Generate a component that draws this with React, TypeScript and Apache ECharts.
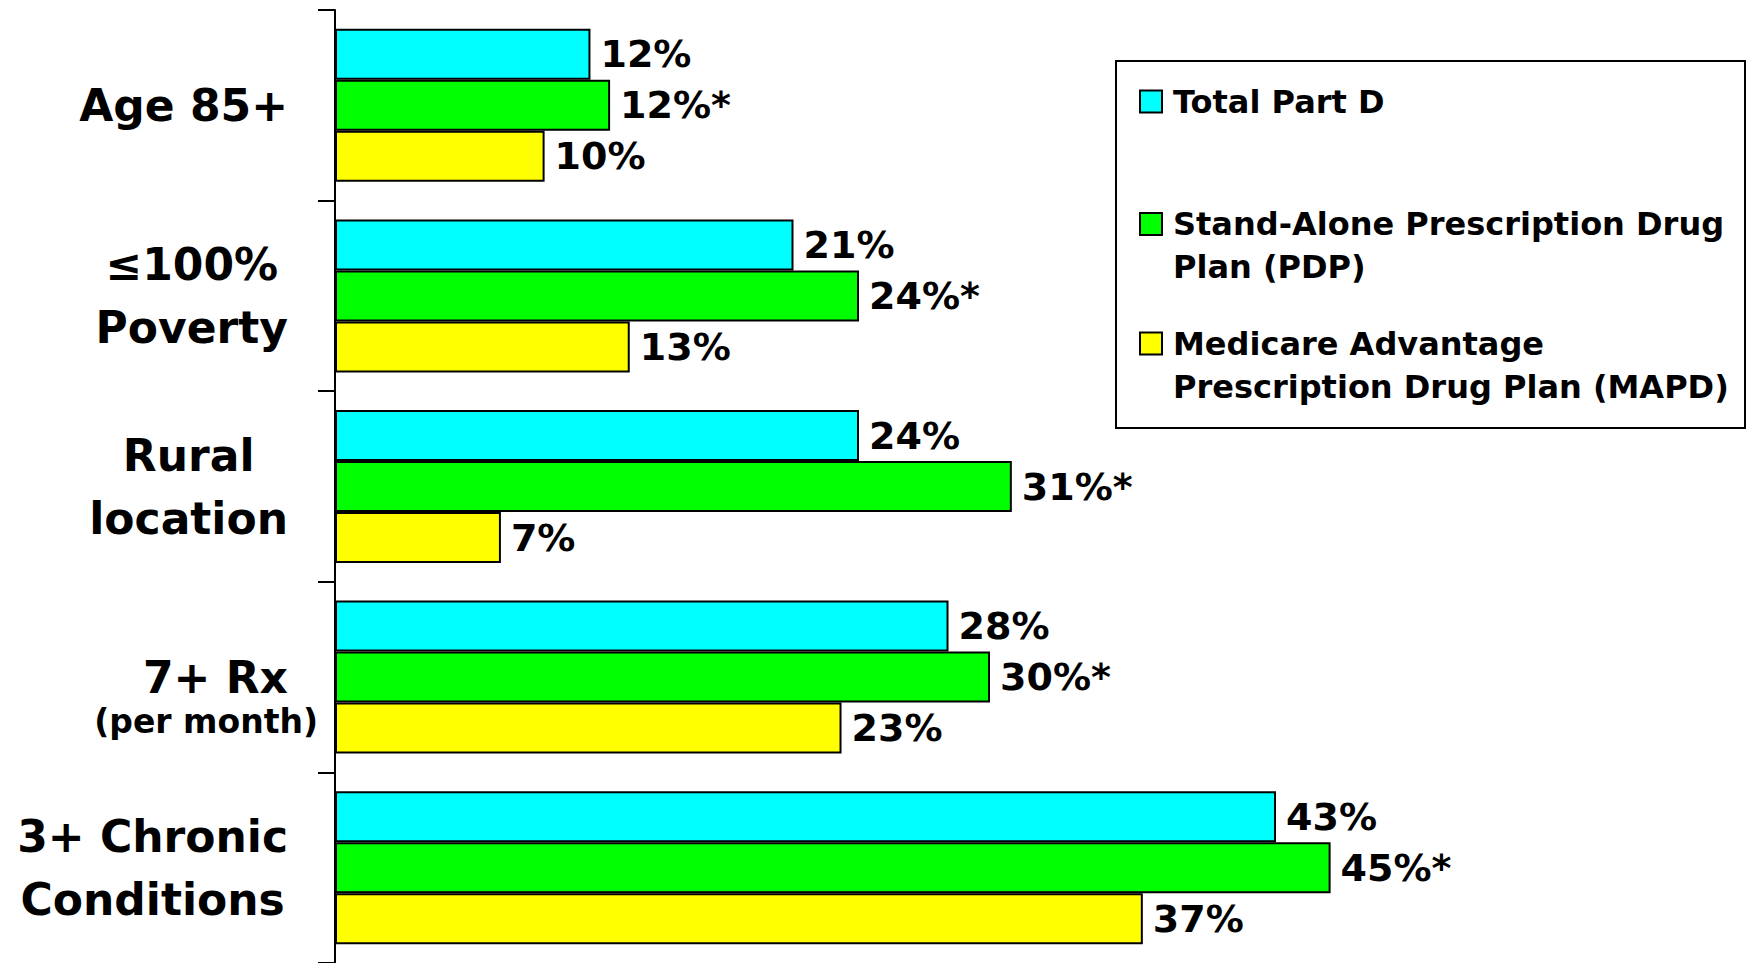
import React, { useEffect, useRef } from 'react';
import * as echarts from 'echarts';

const categories = ['Age 85+', '≤100%\nPoverty', 'Rural\nlocation', '7+ Rx\n(per month)', '3+ Chronic\nConditions'];
const seriesNames = ['Total Part D', 'Stand-Alone Prescription Drug Plan (PDP)', 'Medicare Advantage Prescription Drug Plan (MAPD)'];
const legendLines = [
  ['Total Part D'],
  ['Stand-Alone Prescription Drug', 'Plan (PDP)'],
  ['Medicare Advantage', 'Prescription Drug Plan (MAPD)'],
];
const totalValues = [11.7, 21.0, 24.0, 28.1, 43.1];
const pdpValues = [12.6, 24.0, 31.0, 30.0, 45.6];
const mapdValues = [9.6, 13.5, 7.6, 23.2, 37.0];
const totalLabels = ['12%', '21%', '24%', '28%', '43%'];
const pdpLabels = ['12%*', '24%*', '31%*', '30%*', '45%*'];
const mapdLabels = ['10%', '13%', '7%', '23%', '37%'];
const colors = ['#00FFFF', '#00FF00', '#FFFF00'];

const FONT = "'DejaVu Sans', 'Noto Sans', sans-serif";

export default function App() {
  const ref = useRef<HTMLDivElement>(null);
  useEffect(() => {
    if (!ref.current) return;
    const chart = echarts.init(ref.current, undefined, { renderer: 'svg' });
    const valuesList = [totalValues, pdpValues, mapdValues];
    const labelsList = [totalLabels, pdpLabels, mapdLabels];
    const legendTops = [85.5, 176, 295.5];

    const series = seriesNames.map((name, i) => ({
      name,
      type: 'bar',
      data: valuesList[i],
      barWidth: 51,
      barGap: '0%',
      itemStyle: { color: colors[i], borderColor: '#000', borderWidth: 2 },
      label: {
        show: true,
        position: 'right',
        distance: 10,
        fontFamily: FONT,
        fontWeight: 'bold',
        fontSize: 38,
        color: '#000',
        formatter: (p: any) => labelsList[i][p.dataIndex],
      },
    }));

    const legends = seriesNames.map((name, i) => ({
      data: [name],
      orient: 'vertical',
      left: 1139,
      top: legendTops[i],
      padding: 0,
      icon: 'rect',
      itemWidth: 22,
      itemHeight: 22,
      selectedMode: false,
      itemStyle: { borderColor: '#000', borderWidth: 2 },
      textStyle: {
        fontFamily: FONT,
        fontWeight: 'bold',
        fontSize: 32,
        color: '#000',
        rich: {
          t: { fontFamily: FONT, fontWeight: 'bold', fontSize: 32, color: '#000', lineHeight: 43, padding: [0, 0, 0, 6] },
          sp: { fontSize: 10, lineHeight: 43 },
        },
      },
      formatter: () => {
        const lines = legendLines[i];
        if (lines.length === 1) return `{t|${lines[0]}}`;
        return `{sp| }\n` + lines.map((l) => `{t|${l}}`).join('\n');
      },
    }));

    chart.setOption({
      animation: false,
      backgroundColor: '#fff',
      grid: { left: 335, top: 10, width: 1310, height: 955 },
      legend: legends,
      xAxis: { type: 'value', min: 0, max: 60, show: false },
      yAxis: {
        type: 'category',
        inverse: true,
        data: categories,
        axisLine: { show: true, lineStyle: { color: '#000', width: 2 } },
        axisTick: { show: true, length: 17, lineStyle: { color: '#000', width: 2 } },
        splitLine: { show: false },
        axisLabel: {
          margin: 17,
          interval: 0,
          fontFamily: FONT,
          fontWeight: 'bold',
          color: '#000',
          fontSize: 44,
          formatter: (v: string) => {
            const lines = v.split('\n');
            if (lines.length > 1 && lines[1].startsWith('(')) {
              return `{sp| }\n{r|${lines[0]}}\n{b|${lines[1]}}`;
            }
            return lines.map((l) => `{a|${l}}`).join('\n');
          },
          rich: {
            a: { fontFamily: FONT, fontWeight: 'bold', fontSize: 44, color: '#000', lineHeight: 63, align: 'center', padding: [0, 30, 0, 0] },
            r: { fontFamily: FONT, fontWeight: 'bold', fontSize: 44, color: '#000', lineHeight: 44, align: 'right', padding: [0, 30, 0, 0] },
            b: { fontFamily: FONT, fontWeight: 'bold', fontSize: 33, color: '#000', lineHeight: 44, align: 'right' },
            sp: { fontSize: 10, lineHeight: 44, align: 'right' },
          },
        },
      },
      graphic: [
        {
          type: 'rect',
          shape: { x: 1116, y: 61, width: 629, height: 367 },
          style: { fill: 'none', stroke: '#000', lineWidth: 2 },
          silent: true,
        },
      ],
      series,
    });
    return () => chart.dispose();
  }, []);
  return <div ref={ref} style={{ position: 'absolute', left: 0, top: 0, width: 1747, height: 963 }} />;
}
